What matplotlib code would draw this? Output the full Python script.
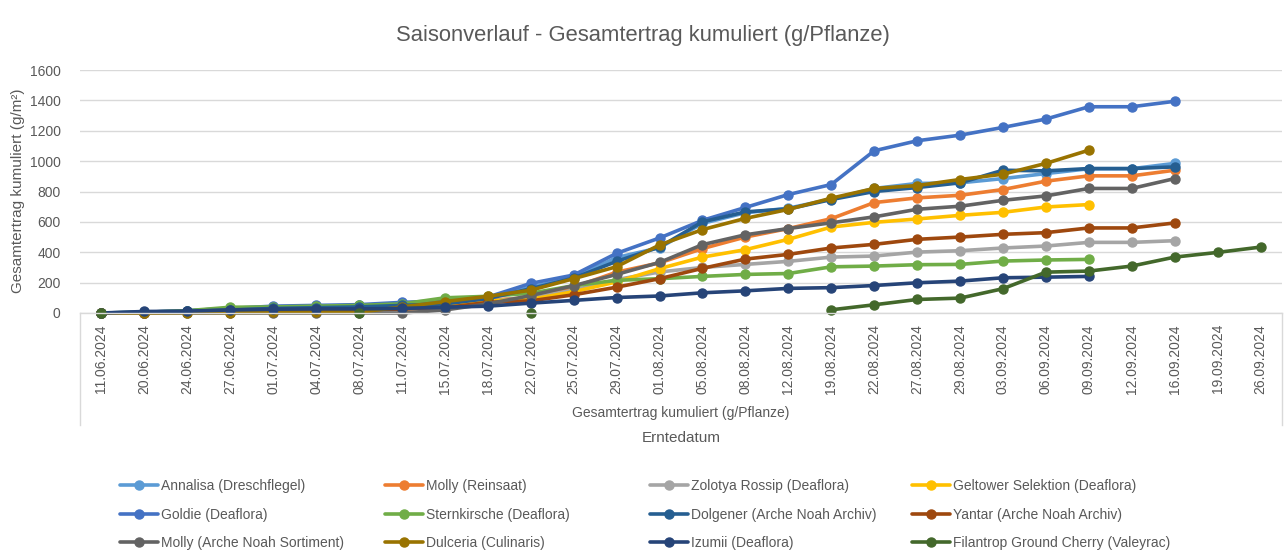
import matplotlib
matplotlib.use("Agg")
import matplotlib.pyplot as plt
import numpy as np

nan = np.nan

dates = ["11.06.2024", "20.06.2024", "24.06.2024", "27.06.2024", "01.07.2024", "04.07.2024",
         "08.07.2024", "11.07.2024", "15.07.2024", "18.07.2024", "22.07.2024", "25.07.2024",
         "29.07.2024", "01.08.2024", "05.08.2024", "08.08.2024", "12.08.2024", "19.08.2024",
         "22.08.2024", "27.08.2024", "29.08.2024", "03.09.2024", "06.09.2024", "09.09.2024",
         "12.09.2024", "16.09.2024", "19.09.2024", "26.09.2024"]

annalisa = [0, 5, 15, 30, 40, 45, 50, 65, 70, 100, 170, 235, 365, 430, 590, 660, 690, 750,
            820, 853, 857, 885, 918, 950, 950, 985, nan, nan]
molly_reinsaat = [0, 2, 8, 15, 20, 22, 25, 35, 45, 85, 100, 170, 269, 330, 424, 500, 556, 621,
                  727, 758, 775, 813, 868, 903, 903, 940, nan, nan]
zolotya = [0, 2, 8, 15, 20, 22, 25, 30, 40, 80, 100, 150, 220, 270, 300, 320, 340, 368,
           375, 401, 410, 428, 441, 465, 465, 476, nan, nan]
geltower = [0, 2, 8, 15, 20, 22, 25, 30, 40, 80, 90, 140, 205, 292, 368, 417, 485, 566,
            597, 619, 643, 663, 698, 714, nan, nan, nan, nan]
goldie = [0, 5, 15, 30, 45, 50, 55, 70, 80, 105, 195, 250, 393, 494, 610, 695, 780, 846,
          1068, 1134, 1171, 1222, 1277, 1358, 1358, 1394, nan, nan]
sternkirsche = [0, 5, 15, 38, 40, 45, 50, 60, 100, 110, 130, 180, 215, 226, 241, 254, 260, 304,
                309, 318, 320, 342, 349, 353, nan, nan, nan, nan]
dolgener = [0, 3, 10, 20, 30, 35, 40, 50, 60, 95, 160, 230, 340, 434, 600, 666, 685, 747,
            800, 826, 857, 940, 936, 951, 951, 962, nan, nan]
yantar = [0, 2, 5, 10, 15, 18, 20, 25, 35, 70, 80, 120, 170, 226, 294, 355, 386, 428,
          452, 485, 500, 518, 529, 560, 560, 593, nan, nan]
molly_ans = [0, 0, 0, 0, 0, 0, 0, 0, 20, 60, 115, 180, 254, 333, 450, 515, 556, 594,
             633, 683, 703, 742, 771, 820, 820, 885, nan, nan]
dulceria = [0, 0, 2, 3, 5, 5, 5, 40, 75, 110, 150, 226, 305, 448, 549, 623, 682, 756,
            820, 839, 879, 914, 985, 1072, nan, nan, nan, nan]
izumii = [0, 10, 12, 20, 25, 27, 27, 30, 38, 45, 65, 83, 102, 112, 133, 146, 162, 167,
          181, 199, 210, 232, 236, 241, nan, nan, nan, nan]
filantrop = [0, nan, nan, nan, nan, nan, 0, nan, nan, nan, 0, nan, nan, nan, nan, nan, nan, 21,
             54, 89, 98, 160, 269, 276, 309, 368, 399, 434]

names = ["Annalisa (Dreschflegel)", "Molly (Reinsaat)", "Zolotya Rossip (Deaflora)",
         "Geltower Selektion (Deaflora)", "Goldie (Deaflora)", "Sternkirsche (Deaflora)",
         "Dolgener (Arche Noah Archiv)", "Yantar (Arche Noah Archiv)",
         "Molly (Arche Noah Sortiment)", "Dulceria (Culinaris)", "Izumii (Deaflora)",
         "Filantrop Ground Cherry (Valeyrac)"]
series = [annalisa, molly_reinsaat, zolotya, geltower, goldie, sternkirsche,
          dolgener, yantar, molly_ans, dulceria, izumii, filantrop]
colors = ["#5B9BD5", "#ED7D31", "#A5A5A5", "#FFC000", "#4472C4", "#70AD47",
          "#255E91", "#9E480E", "#636363", "#997300", "#264478", "#43682B"]

txt = "#595959"
grid = "#D9D9D9"
W, H = 1287, 556
font = "Liberation Sans"

fig = plt.figure(figsize=(W / 100, H / 100), dpi=100)
ax = fig.add_axes([80 / W, 1 - 313 / H, 1202 / W, 243 / H])

x = np.arange(len(dates))
handles = []
for vals, name, col in zip(series, names, colors):
    h, = ax.plot(x, vals, color=col, lw=2.6, marker="o", ms=6.5, label=name,
                 solid_joinstyle="round", solid_capstyle="round", clip_on=False)
    handles.append(h)

ax.set_xlim(-0.5, len(dates) - 0.5)
ax.set_ylim(0, 1600)
ax.set_yticks(range(0, 1601, 200))
ax.set_xticks(x)
ax.set_xticklabels(dates, rotation=90, fontsize=10, color=txt, family=font)
for lab in ax.get_yticklabels():
    lab.set_fontsize(10)
    lab.set_color(txt)
    lab.set_family(font)
ax.tick_params(length=0, pad=8)
ax.tick_params(axis="y", pad=14)
ax.grid(axis="y", color=grid, lw=1)
ax.set_axisbelow(True)
for s in ["top", "right", "left"]:
    ax.spines[s].set_visible(False)
ax.spines["bottom"].set_color(grid)
ax.spines["bottom"].set_linewidth(1)

# box lines below the category axis
depth = 112 / 243
for xx in (0, 1):
    ax.plot([xx, xx], [0, -depth], transform=ax.transAxes, color=grid, lw=1, clip_on=False)

fig.text(18 / W, 1 - 191 / H, "Gesamtertrag kumuliert (g/m²)", rotation=90, ha="center",
         va="center", fontsize=11, color=txt, family=font)
fig.text(643 / W, 1 - 36 / H, "Saisonverlauf - Gesamtertrag kumuliert (g/Pflanze)",
         ha="center", va="center", fontsize=15.8, color=txt, family=font)
fig.text(681 / W, 1 - 413 / H, "Gesamtertrag kumuliert (g/Pflanze)", ha="center", va="center",
         fontsize=10, color=txt, family=font)
fig.text(681 / W, 1 - 438 / H, "Erntedatum", ha="center", va="center",
         fontsize=11, color=txt, family=font)

col_x = [120, 385, 650, 912]
for c in range(4):
    leg = fig.legend(handles=[handles[c], handles[c + 4], handles[c + 8]],
                     loc="upper left", bbox_to_anchor=(col_x[c] / W, 1 - 479 / H),
                     frameon=False, borderpad=0, borderaxespad=0, handlelength=2.7,
                     handletextpad=0.25, labelspacing=1.05,
                     prop={"size": 10, "family": font})
    for t in leg.get_texts():
        t.set_color(txt)

fig.savefig("out.png", dpi=100)
